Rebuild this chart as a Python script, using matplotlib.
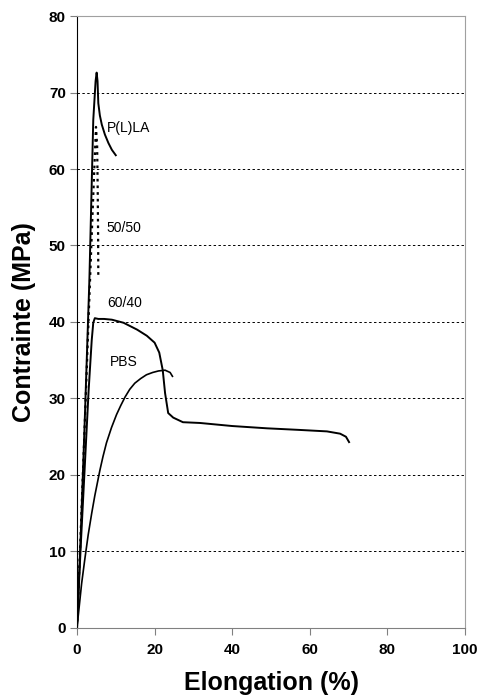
import matplotlib.pyplot as plt

plt.rcParams["font.family"] = ["Liberation Sans", "DejaVu Sans"]

# stress-strain curves (elongation %, stress MPa)
plla_x = [0, 1, 2, 3.2, 4.2, 4.8, 5.07, 5.3, 5.5, 5.9, 6.4, 7.2, 8.1, 9, 10]
plla_y = [0, 12.5, 27, 45.5, 66.4, 71.5, 72.6, 71.5, 68.6, 67, 65.8, 64.5, 63.4, 62.5, 61.8]

b5050_x = [0, 1, 2, 3, 4, 4.9, 5.2, 5.35, 5.45, 5.5]
b5050_y = [0, 13, 26.5, 40.5, 54, 65.5, 63, 57, 51, 46]

b6040_x = [0, 1, 2, 3, 3.8, 4.2, 4.6, 5.5, 7, 9, 12, 15.5, 18, 20, 21.2, 22.1,
           22.7, 23.5, 24.8, 27.3, 31.7, 40, 49, 57, 64.4, 67.8, 69.3, 70.1]
b6040_y = [0, 11, 21, 31, 37.6, 39.9, 40.5, 40.4, 40.4, 40.3, 39.9, 39.0, 38.2,
           37.3, 36, 33.7, 30.7, 28.1, 27.5, 26.9, 26.8, 26.4, 26.1, 25.9, 25.7,
           25.4, 25.0, 24.3]

pbs_x = [0, 1.2, 2.0, 2.9, 3.8, 4.6, 5.9, 6.7, 7.6, 8.9, 10.2, 11.3, 12.4,
         13.6, 14.9, 16.4, 17.9, 19.5, 21.0, 22.7, 24.0, 24.6]
pbs_y = [0, 5.8, 8.9, 12.2, 15.0, 17.3, 20.6, 22.4, 24.2, 26.2, 27.9, 29.1,
         30.2, 31.2, 32.0, 32.6, 33.1, 33.4, 33.6, 33.7, 33.4, 32.9]

labels = ["P(L)LA", "50/50", "60/40", "PBS"]
label_pos = [(7.7, 65.4), (7.7, 52.3), (7.7, 42.5), (8.6, 34.8)]

fig = plt.figure(figsize=(4.81, 6.99), dpi=100)
ax = fig.add_axes([0.160, 0.1016, 0.807, 0.8755])

ax.plot(plla_x, plla_y, color="black", lw=1.4)
ax.plot(b5050_x, b5050_y, color="black", lw=1.6, linestyle=(0, (1.2, 1.8)))
ax.plot(b6040_x, b6040_y, color="black", lw=1.4)
ax.plot(pbs_x, pbs_y, color="black", lw=1.2)

for txt, (x, y) in zip(labels, label_pos):
    ax.text(x, y, txt, fontsize=10, va="center", ha="left")

ax.set_xlim(0, 100)
ax.set_ylim(0, 80)
ax.set_xticks(range(0, 101, 20))
ax.set_yticks(range(0, 81, 10))
for yv in range(10, 80, 10):
    ax.axhline(yv, color="black", lw=0.7, linestyle=(0, (2.5, 2.5)), zorder=0)

for lab in ax.get_xticklabels() + ax.get_yticklabels():
    lab.set_fontweight("bold")
    lab.set_fontsize(11)
ax.tick_params(direction="out", length=5, color="#808080")
ax.tick_params(axis="y", pad=3)
ax.tick_params(axis="x", pad=6)

ax.spines["left"].set_color("black")
ax.spines["bottom"].set_color("#808080")
ax.spines["top"].set_color("#a0a0a0")
ax.spines["right"].set_color("#a0a0a0")

ax.set_xlabel("Elongation (%)", fontsize=18, fontweight="bold", labelpad=10)
ax.set_ylabel("Contrainte (MPa)", fontsize=18, fontweight="bold", labelpad=9)

fig.savefig("out.png", dpi=100)
